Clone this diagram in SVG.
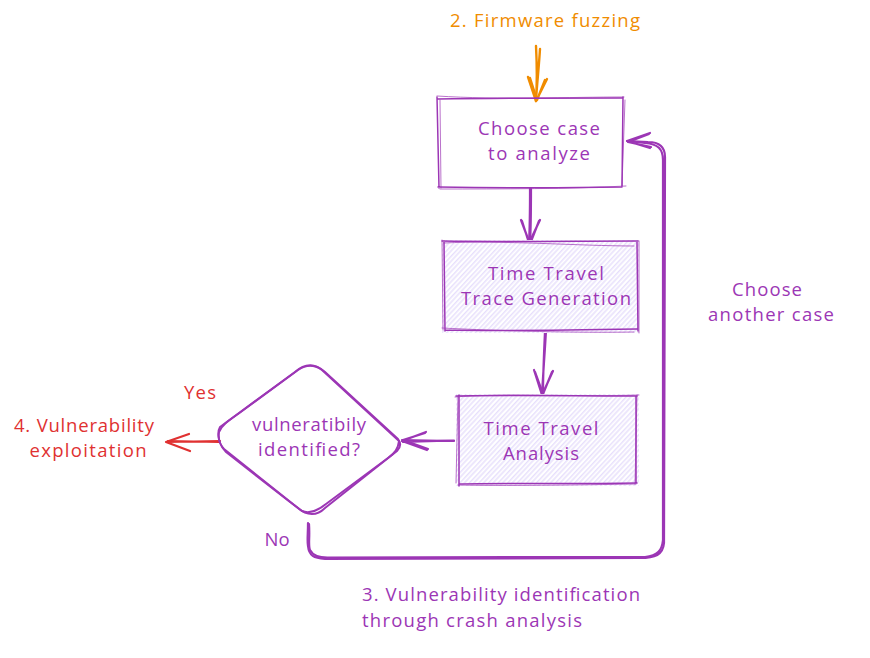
<svg xmlns="http://www.w3.org/2000/svg" width="870" height="658" viewBox="0 0 870 658">
<style>
text{font-family:"Open Sans","Liberation Sans",sans-serif;font-size:18.5px;text-anchor:middle}
.p{fill:#9c36b5}.o{fill:#f08c00}.r{fill:#e03131}
.s,.t,.c,.co,.cr,.d,.ha{fill:none;stroke-linecap:round;stroke-linejoin:round}
.s{stroke:#9c36b5;stroke-width:1.5}
.d{stroke:#9c36b5;stroke-width:2}
.t{stroke:#9c36b5;stroke-width:1;opacity:.7}
.c{stroke:#9c36b5;stroke-width:2.2}
.co{stroke:#f08c00;stroke-width:2.4}
.cr{stroke:#e03131;stroke-width:2.2}
.ha{stroke:#e6defc;stroke-width:1}
</style>
<defs>
<pattern id="h" width="5" height="7" patternUnits="userSpaceOnUse" patternTransform="rotate(-47)">
<rect width="5" height="7" fill="#fff"/>
<rect width="5" height="1.4" fill="#e6defc"/>
<rect y="3.2" width="5" height="1.6" fill="#e9e2fc"/>
</pattern>
</defs>
<g id="connectors">
<path class="co" d="M536 46C537 65 537 85 536 101M540 49C539 66 537 84 536 100"/>
<path class="co" d="M528 77L536 101L547 79M530 78L537 100L545 80"/>
<path class="c" d="M530 188C530 205 530 225 529 243M531 188C531 207 531 226 530 243"/>
<path class="c" d="M521 220L530 244L539 221M522 221L529 243L540 220"/>
<path class="c" d="M545 331C544 352 543 373 543 395M546 331C545 350 543 375 542 394"/>
<path class="c" d="M534 370L542 395L553 371M535 372L543 394L552 372"/>
<path class="c" d="M454 441L402 440M454 440.500L403 442"/>
<path class="c" d="M426 432L402 441L427 450M425 433L403 440L428 449"/>
<path class="cr" d="M220 441L167 442M219 442L168 441"/>
<path class="cr" d="M189 434L166 442L190 451"/>
<path class="c" d="M308 523C308 535 307 540 308 546C309 556 314 558 325 559L640 558C655 558 663 555 664 543L665 157C665 148 660 142 648 142L627 141"/>
<path class="c" d="M309 524C310 538 308 545 310 550C313 556 320 558 330 557.500L645 557C658 556 662 550 663 540L663 160C663 149 658 144 645 143L628 141"/>
<path class="c" d="M650 133L627 141L650 148M649 134L628 142L651 147"/>
</g>
<g id="node-choose">
<path class="s" d="M438 99C500 98 570 98 622 98M438 187C500 188 570 188 622 187M623 97L622 186M439 188L437 97"/>
<path class="t" d="M437 96C500 100 570 97 624 97M440 189C500 189 570 189 626 186M625 100L622 186M441 188L440 100"/>
<text class="p" x="539" y="135" textLength="122">Choose case</text>
<text class="p" x="539" y="160" textLength="102">to analyze</text>
</g>
<g id="node-trace">
<rect x="442" y="240" width="197" height="93" fill="url(#h)"/>
<path class="s" d="M442 241C500 242 580 241 638 241M445 330C500 331 580 330 637 329M637 242L638 331M445 331L444 241"/>
<path class="t" d="M444 243C500 240 580 246 634 246M442 328C500 331 580 333 634 332M639 241L639 333M442 240L443 330"/>
<text class="p" x="546" y="280" textLength="116">Time Travel</text>
<text class="p" x="546" y="305" textLength="170">Trace Generation</text>
</g>
<g id="node-analysis">
<rect x="456" y="394" width="183" height="92" fill="url(#h)"/>
<path class="s" d="M456 396C500 395 580 396 637 396M459 484C500 483 580 484 637 483M636 396L636 483M459 395L459 486"/>
<path class="t" d="M455 397C500 393 580 397 639 395M458 485C500 486 580 485 636 484M637 395L635 484M458 396L456 483"/>
<text class="p" x="541" y="435" textLength="115">Time Travel</text>
<text class="p" x="541" y="460" textLength="76">Analysis</text>
</g>
<g id="node-decision">
<path class="d" d="M220 427L295 372C305 363 315 363 325 372L398 439C401 443 401 447 397 451L325 508C317 516 307 516 298 508L224 449C218 443 217 432 220 427Z"/>
<path class="d" d="M219 432C222 425 228 421 238 414L298 370C305 365 314 364 322 370L399 441C398 449 395 453 388 458L326 504C316 512 309 514 302 511L290 502L226 452C220 446 218 438 219 432Z"/>
<text class="p" x="309" y="431" textLength="114">vulneratibily</text>
<text class="p" x="309" y="456" textLength="102">identified?</text>
</g>
<g id="labels">
<text class="o" x="545" y="27" textLength="190">2. Firmware fuzzing</text>
<text class="p" x="767" y="296" textLength="70">Choose</text>
<text class="p" x="771" y="321" textLength="126">another case</text>
<text class="r" x="200" y="399" textLength="32">Yes</text>
<text class="r" x="84" y="432" textLength="140">4. Vulnerability</text>
<text class="r" x="88" y="457" textLength="117">exploitation</text>
<text class="p" x="277" y="546">No</text>
<text class="p" x="501" y="601" textLength="278">3. Vulnerability identification</text>
<text class="p" x="472" y="627" textLength="220">through crash analysis</text>
</g>
</svg>
